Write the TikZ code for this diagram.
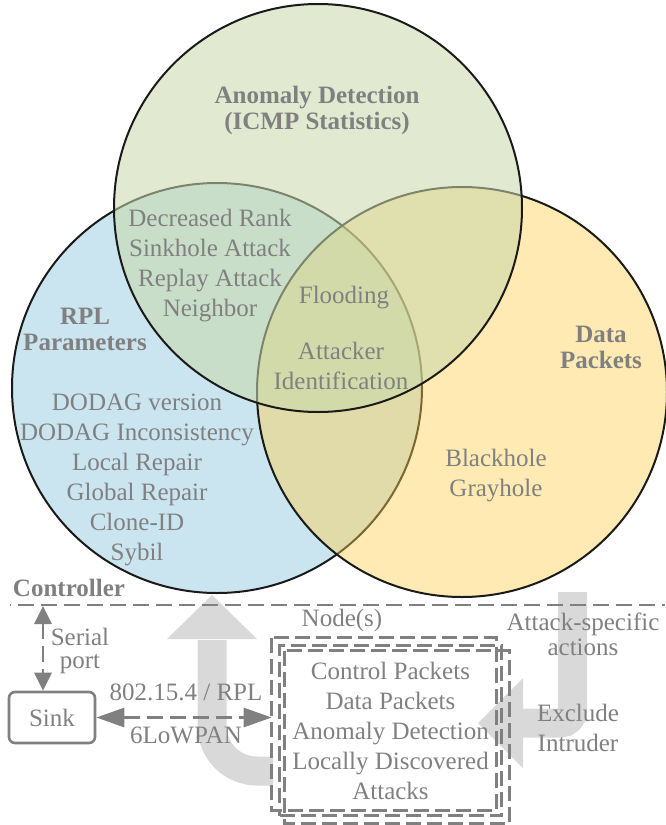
\documentclass[tikz,border=0pt]{standalone}
\usepackage{fontspec}
\setmainfont{Liberation Serif}
\usetikzlibrary{arrows.meta}

\definecolor{rplblue}{HTML}{CAE5EF}
\definecolor{datayellow}{HTML}{FDCE4C}
\definecolor{anomgreen}{HTML}{C9DAAD}
\definecolor{ringline}{HTML}{1A1A1A}
\definecolor{labelgrey}{HTML}{808080}
\definecolor{flowgrey}{HTML}{D9D9D9}

\begin{document}
\begin{tikzpicture}[x=1pt, y=-1pt,
  setring/.style={circle, inner sep=0pt, outer sep=0pt, minimum size=410pt,
    draw=ringline, line width=2pt},
  lbl/.style={text=labelgrey, font=\fontsize{25}{30}\selectfont, align=center, inner sep=0pt},
  title/.style={lbl, font=\fontsize{25}{26}\selectfont\bfseries},
  dashline/.style={draw=labelgrey, line width=2.8pt, dash pattern=on 16pt off 7pt},
  nodebox/.style={draw=labelgrey, line width=2.6pt, dash pattern=on 15pt off 6pt},
  flow/.style={draw=flowgrey, line width=29pt},
  flowhead/.style={fill=flowgrey},
  sinkbox/.style={draw=labelgrey, line width=2.6pt, rounded corners=6pt, text=labelgrey,
    font=\fontsize{25}{30}\selectfont, minimum width=86pt, minimum height=51pt, inner sep=0pt},
  linkarrow/.style={dashline, {Triangle[length=28pt,width=19pt]}-{Triangle[length=28pt,width=19pt]}},
  portarrow/.style={dashline, {Triangle[length=18pt,width=17pt]}-{Triangle[length=18pt,width=17pt]}}
]
\useasboundingbox (0,0) rectangle (665,825);

% the three overlapping sets
\node[setring, fill=rplblue] (rpl) at (217,388) {};
\node[setring, fill=datayellow, fill opacity=0.43] (data) at (462,392) {};
\node[setring, fill=anomgreen, fill opacity=0.56, minimum size=408pt] (anom) at (318,208) {};

% broad feedback arrows between the nodes and the controller
\draw[flow, rounded corners=45pt] (212,640) -- (212,771) -- (273,771);
\fill[flowhead] (167,639) -- (257,639) -- (212,595) -- cycle;
\draw[flow, rounded corners=12pt] (572.5,592) -- (572.5,723) -- (522,723);
\fill[flowhead] (523,678) -- (523,768) -- (478,723) -- cycle;

% set labels
\node[title] (anomtitle) at (317,110) {Anomaly Detection\\(ICMP Statistics)};
\node[title] (rpltitle) at (85,329) {RPL\\Parameters};
\node[title] (datatitle) at (601,347) {Data\\Packets};

\node[lbl] (rplanom) at (210,266) {Decreased Rank\\Sinkhole Attack\\Replay Attack\\Neighbor};
\node[lbl] (flood) at (344,298) {Flooding};
\node[lbl] (attacker) at (341,366) {Attacker\\Identification};
\node[lbl] (rplonly) at (137,480) {DODAG version\\DODAG Inconsistency\\Local Repair\\Global Repair\\Clone-ID\\Sybil};
\node[lbl] (dataonly) at (496,476) {Blackhole\\Grayhole};

% controller / network split
\coordinate (ctrlL) at (10,605);
\coordinate (ctrlR) at (665,605);
\draw[dashline, dash phase=15pt] (ctrlL) -- (ctrlR);
\node[title] (controller) at (69,588) {Controller};

% sink and serial link
\node[sinkbox] (sink) at (52,717.5) {Sink};
\coordinate (ctrlport) at (43,606);
\draw[portarrow] (ctrlport) -- (ctrlport |- sink.north);
\node[lbl, font=\fontsize{25}{23}\selectfont] (serial) at (80,651) {Serial\\port};

% sensor nodes
\node[nodebox, minimum width=222pt, minimum height=170pt, text=labelgrey,
  font=\fontsize{25}{30}\selectfont, align=center, inner sep=0pt]
  (nodes) at (390.5,730.5) {Control Packets\\Data Packets\\Anomaly Detection\\Locally Discovered\\Attacks};
\draw[nodebox] ([shift={(-6.5,-6.5)}]nodes.north west) rectangle ([shift={(-6.5,-6.5)}]nodes.south east);
\draw[nodebox] ([shift={(6.5,6.5)}]nodes.north west) rectangle ([shift={(6.5,6.5)}]nodes.south east);
\coordinate (backwest) at ([xshift=-6.5pt]nodes.west);
\node[lbl] (nodeslabel) at (342,620) {Node(s)};

% radio link between sink and nodes
\draw[linkarrow] (sink.east) -- (sink.east -| backwest);
\node[lbl] (linkstd) at (186,692) {802.15.4 / RPL};
\node[lbl] (linkip) at (186,735) {6LoWPAN};

% actions sent back to the nodes
\node[lbl, font=\fontsize{25}{25}\selectfont] (actions) at (583,634) {Attack-specific\\actions};
\node[lbl] (exclude) at (578,728) {Exclude\\Intruder};
\end{tikzpicture}
\end{document}
